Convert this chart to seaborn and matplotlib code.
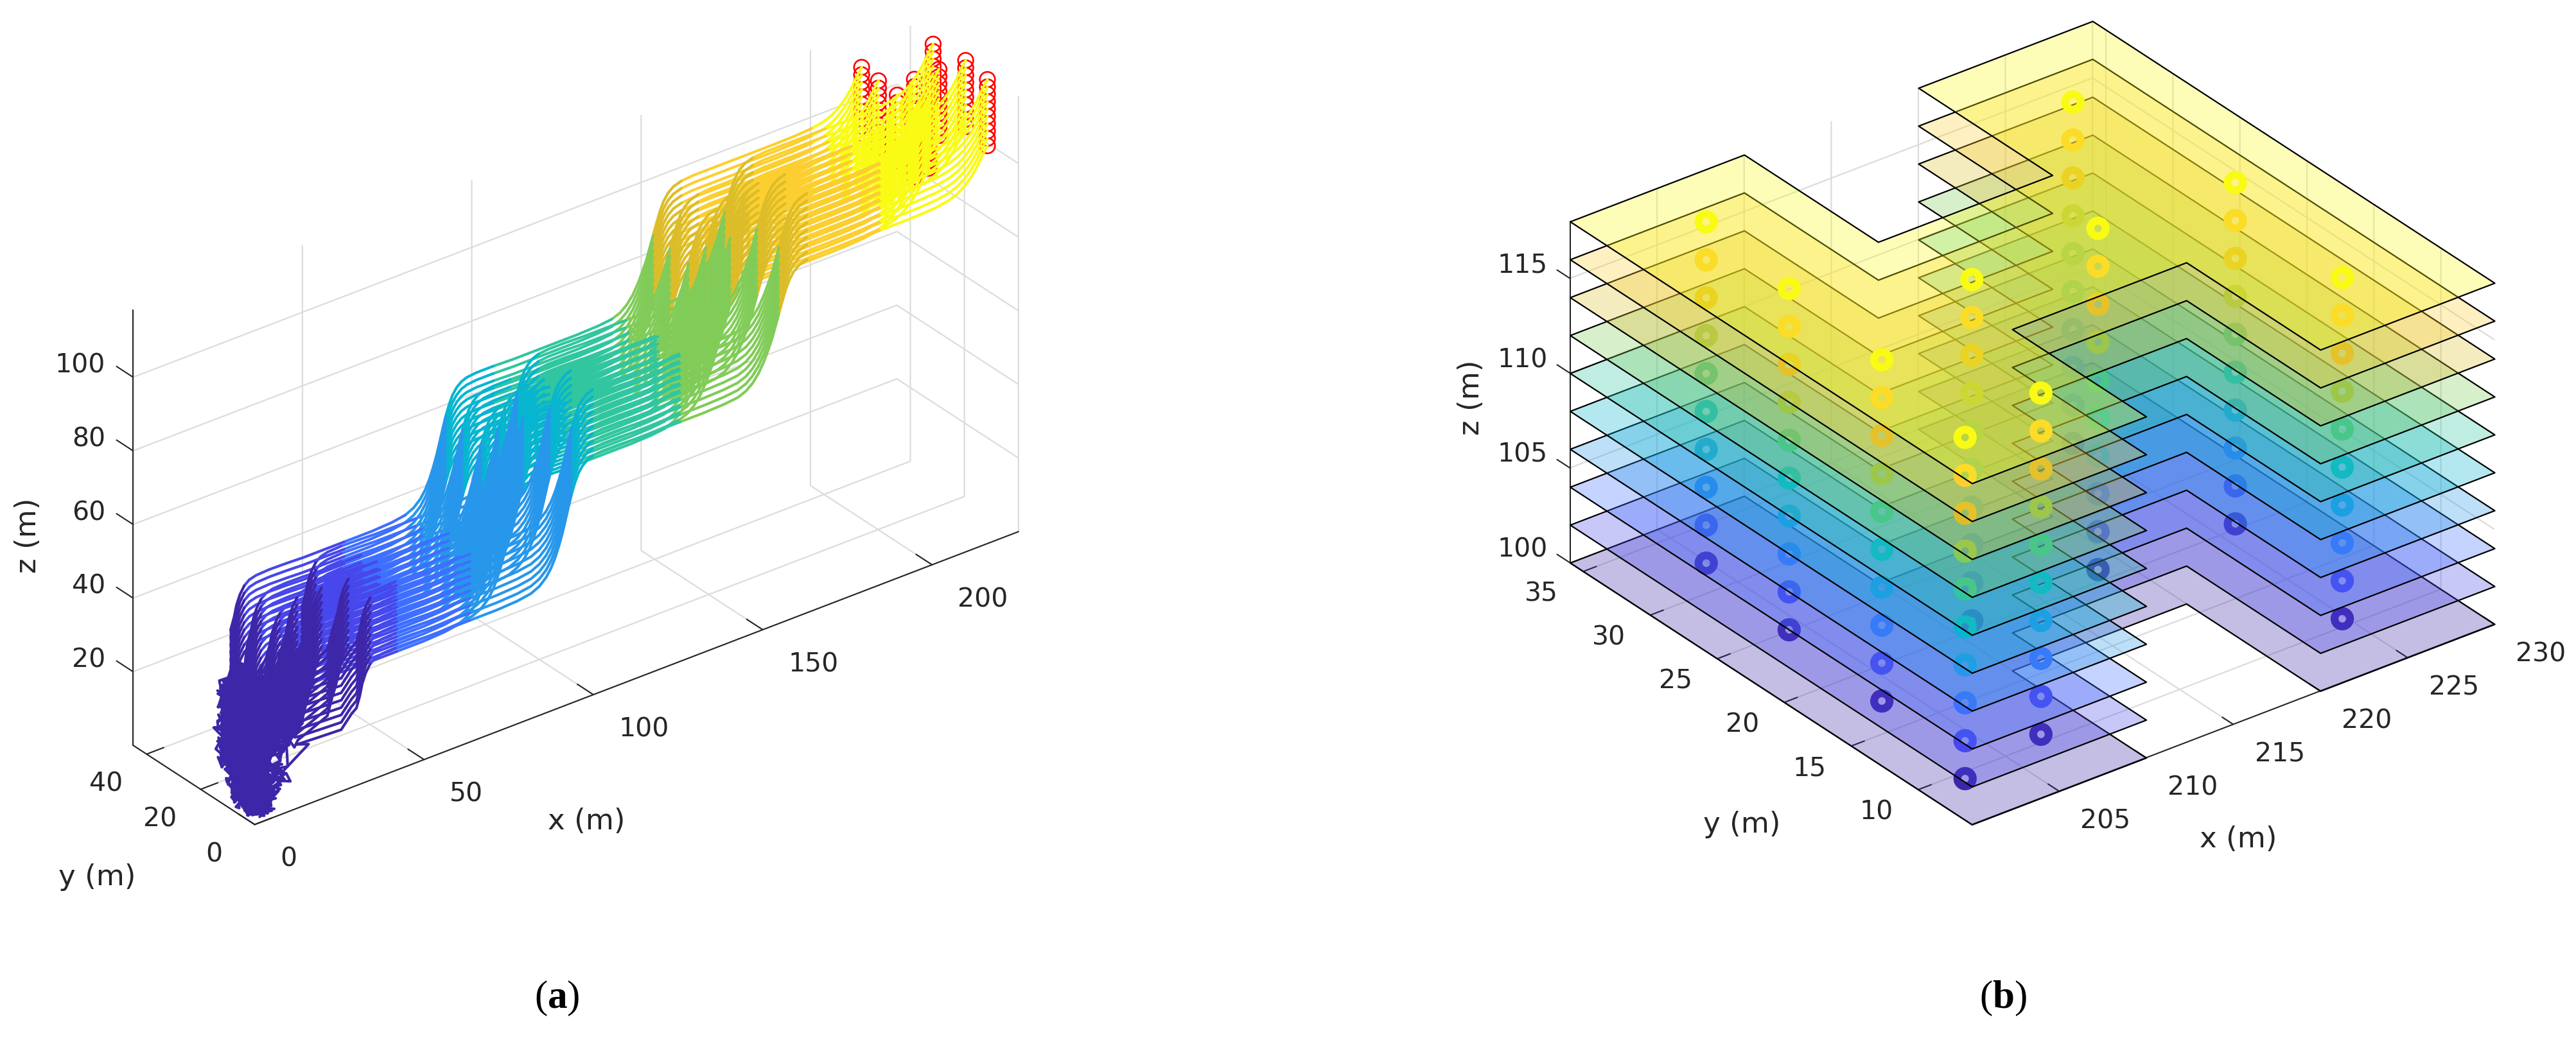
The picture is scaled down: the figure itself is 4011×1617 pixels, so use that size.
import numpy as np
import seaborn as sns
import matplotlib
matplotlib.use('Agg')
import matplotlib.pyplot as plt
from mpl_toolkits.mplot3d import proj3d
from mpl_toolkits.mplot3d.art3d import Line3DCollection, Poly3DCollection

sns.set_style('white')
plt.rcParams['font.family'] = 'DejaVu Sans'
plt.rcParams['mathtext.fontset'] = 'custom'
plt.rcParams['mathtext.bf'] = 'Liberation Serif:bold'
plt.rcParams['mathtext.rm'] = 'Liberation Serif'

# parula, one row per flight level
level_colors = [(0.2422, 0.1504, 0.6603), (0.2803, 0.2782, 0.9221), (0.2440, 0.4358, 0.9988),
                (0.1540, 0.5902, 0.9218), (0.0297, 0.7082, 0.8163), (0.1938, 0.7758, 0.6251),
                (0.5044, 0.7993, 0.3480), (0.8634, 0.7406, 0.1596), (0.9892, 0.8136, 0.1885),
                (0.9769, 0.9839, 0.0805)]
palette = sns.color_palette(level_colors)

levels = [100, 102, 104, 106, 108, 110, 112, 114, 116, 118]
goal_x = [204.9, 204.2, 203.6, 202.3, 207.5, 211.3, 218.7, 224.8, 226.2, 224.8]
goal_y = [32.2, 25.1, 17.4, 9.5, 10.6, 20.7, 20.9, 30.7, 20.4, 10.6]

floor_x = [200, 210, 210, 220, 220, 230, 230, 220, 220, 210, 210, 200]
floor_y = [6, 6, 16, 16, 6, 6, 36, 36, 26, 26, 36, 36]

# lowest trajectory, read along the right hand column at level 100
path_x = [21, 27, 34, 37, 38.5, 39.5, 40.2, 41.2, 42.5, 44, 46, 50, 55, 60, 66, 72, 80, 86, 90, 92.5, 94.5, 96, 97.2,
          98.3, 99.3, 100.2, 101.1, 102, 103, 104, 105.2, 106.6, 108.2, 111, 116, 122, 128, 134, 141,
          147, 151, 153.5, 155.5, 157.2, 158.7, 160, 161.2, 162.2, 163.2, 164.2, 165.2, 166.3, 167.6,
          169.2, 171.5, 175, 181, 187, 193, 199, 205, 210, 213.5, 216, 218, 220, 221.6, 223, 224.2, 224.8]
path_z = [9.3, 9, 8.7, 11.9, 13, 16, 19, 21.5, 23.5, 24.6, 25.1, 25.3, 25.2, 25, 25, 25, 25, 25.3, 25.9, 27, 28.7, 30.8, 33.2,
          36, 39, 42.2, 45.5, 48.6, 51.4, 53.6, 55.2, 56.3, 56.9, 57.2, 57.2, 57, 57, 57, 57,
          57.2, 57.6, 58.5, 60, 62, 64.5, 67.2, 70, 73, 76, 79, 81.8, 84.2, 86,
          87.2, 87.9, 88.2, 88.2, 88.2, 88.2, 88.2, 88.3, 88.6, 89.2, 90.1, 91.4, 93.2, 95.2, 97.4, 99.2, 100]
# how far the first path points have moved out to their own y
path_pull = [.15, .4, .7, .9]
# where the colour changes along x, on the climbs by position along the path
climb_cuts = {1: 42, 4: 101.5, 7: 163, 8: 170}
x_cuts = {2: 47, 3: 67, 5: 95, 6: 130, 9: 188}

# the knot at take off
start_x = [1, 7, 3, 13, 5, 0, 10, 2, 6, 4]
start_y = [3, 13, 8, 1, 11, 5, 15, 0, 9, 6]
start_z = [6, 34, 14, 25, 2, 37, 19, 9, 29, 4]
knot_steps = [0, .012, .025, .04, .055, .07, .085, .1, .12, .14, .16, .18, .21, .24, .28, .33, .4, .5, .62, .76, .88]
wiggle = [1.8, -2.2, .6, 2.6, -1.1, -2.7, 2.1, -.4, 1.2, -1.9, 2.9, -.8, -2.4]

ticks_a = {'x': [0, 50, 100, 150, 200], 'y': [0, 20, 40], 'z': [20, 40, 60, 80, 100]}
ticks_b = {'x': [205, 210, 215, 220, 225, 230], 'y': [10, 15, 20, 25, 30, 35], 'z': [100, 105, 110, 115]}

W, H = 4012, 1617
K = 4012 / 1568
TXT = '#262626'
fig = plt.figure(figsize=(W / 100, H / 100), dpi=100, facecolor='white')


def make_axes(xlim, ylim, zlim, box, ticks):
    ax = fig.add_axes([0.1, 0.1, 0.3, 0.3 * W / H], projection='3d', proj_type='ortho',
                      computed_zorder=False)
    ax.view_init(elev=30, azim=-127.5)
    ax.set_xlim(*xlim, view_margin=0)
    ax.set_ylim(*ylim, view_margin=0)
    ax.set_zlim(*zlim, view_margin=0)
    ax.set_box_aspect(box)
    ax.set_facecolor('none')
    ax.set_xticks(ticks['x'])
    ax.set_yticks(ticks['y'])
    ax.set_zticks(ticks['z'])
    ax.zaxis.set_ticks_position('upper')
    ax.zaxis._get_tickdir = lambda position: 1
    for axis in (ax.xaxis, ax.yaxis, ax.zaxis):
        axis.set_pane_color((1, 1, 1, 0))
        axis.pane.set_edgecolor((1, 1, 1, 0))
        axis.line.set_color(TXT)
        axis.line.set_linewidth(1.5)
        axis.label.set_visible(False)
        axis.offsetText.set_visible(False)
        axis._axinfo['grid'].update(color='#dcdcdc', linewidth=1.6)
        axis._axinfo['tick'].update(inward_factor=0, color=TXT)
        axis._axinfo['tick']['linewidth'] = {True: 1.5, False: 1.5}
        for tick in axis.get_major_ticks():
            tick.label1.set_visible(False)
            tick.label2.set_visible(False)
    return ax


def to_px(ax, x, y, z):
    ax.apply_aspect()
    px, py, _ = proj3d.proj_transform(x, y, z, ax.get_proj())
    return ax.transData.transform((px, py))


def place_axes(ax, p0, p1, t0, t1):
    # scale and shift the axes so two box corners land where they are in the reference
    t0 = np.array([t0[0] * K, H - t0[1] * K])
    t1 = np.array([t1[0] * K, H - t1[1] * K])
    a, b = to_px(ax, *p0), to_px(ax, *p1)
    pos = ax.get_position(original=True)
    side = pos.width * W * np.linalg.norm(t1 - t0) / np.linalg.norm(b - a)
    ax.set_position([pos.x0, pos.y0, side / W, side / H])
    a = to_px(ax, *p0)
    pos = ax.get_position(original=True)
    ax.set_position([pos.x0 + (t0[0] - a[0]) / W, pos.y0 + (t0[1] - a[1]) / H, side / W, side / H])


def tick_text(ax, x, y, z, s, ha='center'):
    px, py = to_px(ax, x, y, z)
    fig.text(px / W, py / H, s, ha=ha, va='center', fontsize=29.5, color=TXT)


def band_of(px, dx):
    x = px + dx
    b = 0
    if px >= climb_cuts[1]:
        b = 1
    if x >= x_cuts[2]:
        b = 2
    if x >= x_cuts[3]:
        b = 3
    if px >= climb_cuts[4]:
        b = 4
    if x >= x_cuts[5] and px >= 108:
        b = 5
    if x >= x_cuts[6] and px >= 116:
        b = 6
    if px >= climb_cuts[7]:
        b = 7
    if px >= climb_cuts[8]:
        b = 8
    if x >= x_cuts[9]:
        b = 9
    return b


# ---------- panel (a)
ax = make_axes((0, 225.5), (0, 45), (0, 118.3), (585.5, 121.5, 306), ticks_a)
ax.xaxis._axinfo['tick']['outward_factor'] = 1.65
ax.yaxis._axinfo['tick']['outward_factor'] = 0.28
ax.zaxis._axinfo['tick']['outward_factor'] = 1.7

for c in range(len(goal_x)):
    ax.scatter([goal_x[c]] * len(levels), [goal_y[c]] * len(levels), levels, s=290,
               facecolors='none', edgecolors='red', linewidths=1.9, depthshade=False,
               zorder=2, clip_on=False)

segments = [[] for _ in palette]
for c in range(len(goal_x)):
    dx = goal_x[c] - goal_x[-1]
    gy = goal_y[c]
    near_y = min(gy, goal_y[-1])
    for l in range(len(levels)):
        dz = levels[l] - levels[0]
        line = []
        for k in range(len(path_x)):
            y = near_y + path_pull[k] * (gy - near_y) if k < len(path_pull) else gy
            line.append((max(path_x[k] + dx, 0.5), y, path_z[k] + dz))
        i = (c + l * 3) % 10
        j = (c * 7 + l) % 10
        m = (l * 3 + c) % 10
        spread = 0.5 + start_z[m] / 70
        knot = []
        for n, f in enumerate(knot_steps):
            w1 = wiggle[(c * 3 + l * 7 + n * 5) % 13] if n > 0 else 0
            w2 = wiggle[(c * 5 + l * 2 + n * 3) % 13] if n > 0 else 0
            w3 = wiggle[(c + l * 4 + n * 7) % 13] if n > 0 else 0
            sx, sy = start_x[i] * spread, start_y[j] * spread
            knot.append((max(sx + f * (line[0][0] - sx) + w1, 0),
                         max(sy + f * (line[0][1] - sy) + w2, 0),
                         max(start_z[m] + f * (line[0][2] - start_z[m]) + w3, 1)))
        segments[0].append(knot + [line[0]])
        bands = [band_of(path_x[k], dx) for k in range(len(line))]
        k = 0
        while k < len(line) - 1:
            e = k + 1
            while e < len(line) - 1 and bands[e] == bands[k + 1]:
                e += 1
            segments[bands[k + 1]].append(line[k:e + 1])
            k = e

for b in reversed(range(len(palette))):
    lc = Line3DCollection(segments[b], colors=[palette[b]], linewidths=3.0, zorder=3 + len(palette) - b)
    lc.set_capstyle('round')
    ax.add_collection3d(lc, autolim=False)

place_axes(ax, (0, 0, 0), (225.5, 0, 0), (155, 502), (619.5, 323))

for t in ticks_a['x']:
    tick_text(ax, t, -9.4, -5, str(t), ha='left')
for t in ticks_a['y']:
    tick_text(ax, -12, t, -4, str(t))
for t in ticks_a['z']:
    tick_text(ax, 0, 55.3, t - 1.8, str(t), ha='right')

# ---------- panel (b)
ax2 = make_axes((200, 230), (6, 36), (100, 118), (401, 402, 240), ticks_b)
ax2.xaxis._axinfo['tick']['outward_factor'] = 0.34
ax2.yaxis._axinfo['tick']['outward_factor'] = 0.31
ax2.zaxis._axinfo['tick']['outward_factor'] = 0.4

zo = 2
for l in range(len(levels)):
    outline = [[(floor_x[k], floor_y[k], levels[l]) for k in range(len(floor_x))]]
    poly = Poly3DCollection(outline, facecolors=[(*palette[l], 0.3)], edgecolors='black',
                            linewidths=1.6, zorder=zo)
    ax2.add_collection3d(poly, autolim=False)
    ax2.scatter(goal_x, goal_y, [levels[l]] * len(goal_x), s=300, facecolors='none',
                edgecolors=[palette[l]], linewidths=8.8, depthshade=False, zorder=zo + 1, clip_on=False)
    zo += 2

place_axes(ax2, (200, 6, 100), (230, 6, 100), (1200, 502), (1518, 380))

for t in ticks_b['x']:
    tick_text(ax2, t, 2.53, 100, str(t))
for t in ticks_b['y']:
    tick_text(ax2, 197.6, t, 99.64, str(t))
for t in ticks_b['z']:
    tick_text(ax2, 200, 39.55, t - .95, str(t))

# ---------- axis labels and captions
labels = [('z (m)', 17, 326, 90), ('y (m)', 59, 534, 0), ('x (m)', 357, 500, 0),
          ('z (m)', 895, 242, 90), ('y (m)', 1060, 502, 0), ('x (m)', 1362, 511, 0)]
for s, px, py, rot in labels:
    fig.text(px / 1568, 1 - py / 632, s, fontsize=32.5, color=TXT, rotation=rot, ha='center', va='center')
fig.text(339 / 1568, 1 - 608 / 632, r'($\mathbf{a}$)', fontsize=44, color='black', ha='center', va='center',
         family='Liberation Serif')
fig.text(1219 / 1568, 1 - 608 / 632, r'($\mathbf{b}$)', fontsize=44, color='black', ha='center', va='center',
         family='Liberation Serif')

fig.savefig('out.png', dpi=100, facecolor='white')
